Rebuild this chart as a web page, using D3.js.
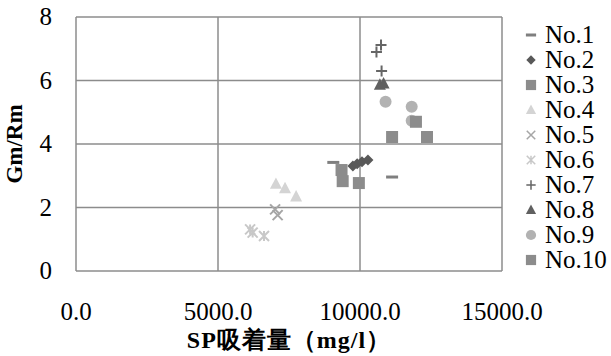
<!DOCTYPE html>
<meta charset="utf-8">
<head>
<title>Gm/Rm scatter</title>
<script src="https://d3js.org/d3.v7.min.js"></script>
<style>
  body { margin: 0; background: #fff; }
  text { font-family: "Liberation Serif", "Noto Serif", "Nimbus Roman", "FreeSerif", "Times New Roman", "DejaVu Serif", serif; fill: #000; }
  .title { font-weight: bold; }
</style>
</head>
<body>
<div id="chart"></div>
<script>
    // series values: [SP吸着量, Gm/Rm]
    let no1  = [[9060, 3.42], [11130, 2.96]];
    let no2  = [[9750, 3.31], [9900, 3.38], [10070, 3.44], [10280, 3.50]];
    let no3  = [[9350, 3.18], [9390, 2.83], [9960, 2.77]];
    let no4  = [[7040, 2.74], [7360, 2.60], [7750, 2.34]];
    let no5  = [[7010, 1.94], [7100, 1.76]];
    let no6  = [[6130, 1.31], [6220, 1.21], [6620, 1.10]];
    let no7  = [[10740, 7.12], [10580, 6.90], [10760, 6.30]];
    let no8  = [[10700, 5.86], [10830, 5.90]];
    let no9  = [[10900, 5.33], [11820, 5.17], [11820, 4.73]];
    let no10 = [[11970, 4.70], [11130, 4.22], [12360, 4.22]];

    let seriesNames = ["No.1", "No.2", "No.3", "No.4", "No.5", "No.6", "No.7", "No.8", "No.9", "No.10"];
    let seriesData = [no1, no2, no3, no4, no5, no6, no7, no8, no9, no10];
    let markers = ["dash", "diamond", "square", "triangle", "times", "asterisk", "plus", "triangle", "circle", "square"];
    let colors = ["#7f7f7f", "#595959", "#8c8c8c", "#d4d4d4", "#a6a6a6", "#c8c8c8", "#666666", "#606060", "#b2b2b2", "#8c8c8c"];

    let xTicks = [0, 5000, 10000, 15000];
    let yTicks = [0, 2, 4, 6, 8];

    let w = 611;
    let h = 356;
    let pLeft = 76, pRight = 502, pTop = 17, pBottom = 271;

    let svg = d3.select("#chart")
                .append("svg")
                .attr("width", w)
                .attr("height", h)

    let x = d3.scaleLinear().domain([0, 15000]).range([pLeft, pRight]);
    let y = d3.scaleLinear().domain([0, 8]).range([pBottom, pTop]);

    // grid
    svg.selectAll(".hgrid")
       .data(yTicks)
       .enter()
       .append("line")
       .attr("x1", pLeft).attr("x2", pRight)
       .attr("y1", (d) => y(d)).attr("y2", (d) => y(d))
       .style("stroke", "#8c8c8c")
       .style("stroke-width", 1.5)

    svg.selectAll(".vgrid")
       .data(xTicks)
       .enter()
       .append("line")
       .attr("x1", (d) => x(d)).attr("x2", (d) => x(d))
       .attr("y1", pTop).attr("y2", pBottom)
       .style("stroke", "#8c8c8c")
       .style("stroke-width", 1.5)

    // tick labels
    svg.selectAll(".ylab")
       .data(yTicks)
       .enter()
       .append("text")
       .attr("x", 52)
       .attr("y", (d) => y(d))
       .attr("dy", "0.33em")
       .attr("text-anchor", "end")
       .style("font-size", "25px")
       .text((d) => d)

    svg.selectAll(".xlab")
       .data(xTicks)
       .enter()
       .append("text")
       .attr("x", (d) => x(d))
       .attr("y", 320)
       .attr("text-anchor", "middle")
       .style("font-size", "25px")
       .text((d) => d3.format(".1f")(d))

    // axis titles
    svg.append("text")
       .attr("class", "title")
       .attr("transform", "translate(22," + ((pTop + pBottom) / 2) + ") rotate(-90)")
       .attr("text-anchor", "middle")
       .style("font-size", "23px")
       .text("Gm/Rm")

    svg.append("text")
       .attr("class", "title")
       .attr("x", (pLeft + pRight) / 2)
       .attr("y", 348)
       .attr("text-anchor", "middle")
       .style("font-size", "24px")
       .style("letter-spacing", "1px")
       .text("SP吸着量（mg/l）")

    // marker shapes, drawn around 0,0
    function markerPath(type, s){
        let r = s / 2;
        switch(type){
            case "dash":
                return "M" + (-r) + ",-1.5H" + r + "V1.5H" + (-r) + "Z";
            case "diamond":
                return "M0," + (-r) + "L" + r + ",0L0," + r + "L" + (-r) + ",0Z";
            case "square":
                return "M" + (-r) + "," + (-r) + "H" + r + "V" + r + "H" + (-r) + "Z";
            case "triangle":
                return "M0," + (-r * 1.1) + "L" + r + "," + (r * 0.8) + "L" + (-r) + "," + (r * 0.8) + "Z";
            case "circle":
                return d3.arc()({innerRadius: 0, outerRadius: r, startAngle: 0, endAngle: 2 * Math.PI});
            case "times":
                return "M" + (-r) + "," + (-r) + "L" + r + "," + r + "M" + r + "," + (-r) + "L" + (-r) + "," + r;
            case "plus":
                return "M" + (-r) + ",0H" + r + "M0," + (-r) + "V" + r;
            case "asterisk":
                return "M" + (-r) + "," + (-r) + "L" + r + "," + r + "M" + r + "," + (-r) + "L" + (-r) + "," + r + "M0," + (-r) + "V" + r;
        }
    }
    let strokeOnly = {times: true, plus: true, asterisk: true};
    let sizes = {dash: 12, diamond: 11, square: 12, triangle: 12, circle: 12, times: 10, plus: 11, asterisk: 10};

    seriesData.forEach((data, i) => {
        let m = markers[i];
        svg.selectAll(".s" + i)
           .data(data)
           .enter()
           .append("path")
           .attr("transform", (d) => "translate(" + x(d[0]) + "," + y(d[1]) + ")")
           .attr("d", markerPath(m, sizes[m]))
           .style("fill", strokeOnly[m] ? "none" : colors[i])
           .style("stroke", strokeOnly[m] ? colors[i] : "none")
           .style("stroke-width", 2)
    });

    // legend
    let legend = svg.selectAll(".legend")
                    .data(seriesNames)
                    .enter()
                    .append("g")
                    .attr("transform", (d, i) => "translate(531," + (35 + i * 25) + ")")

    legend.append("path")
          .attr("d", (d, i) => markerPath(markers[i], sizes[markers[i]] * 0.85))
          .style("fill", (d, i) => strokeOnly[markers[i]] ? "none" : colors[i])
          .style("stroke", (d, i) => strokeOnly[markers[i]] ? colors[i] : "none")
          .style("stroke-width", 1.5)

    legend.append("text")
          .attr("x", 14)
          .attr("dy", "0.33em")
          .style("font-size", "25px")
          .text((d) => d)
</script>
</body>
